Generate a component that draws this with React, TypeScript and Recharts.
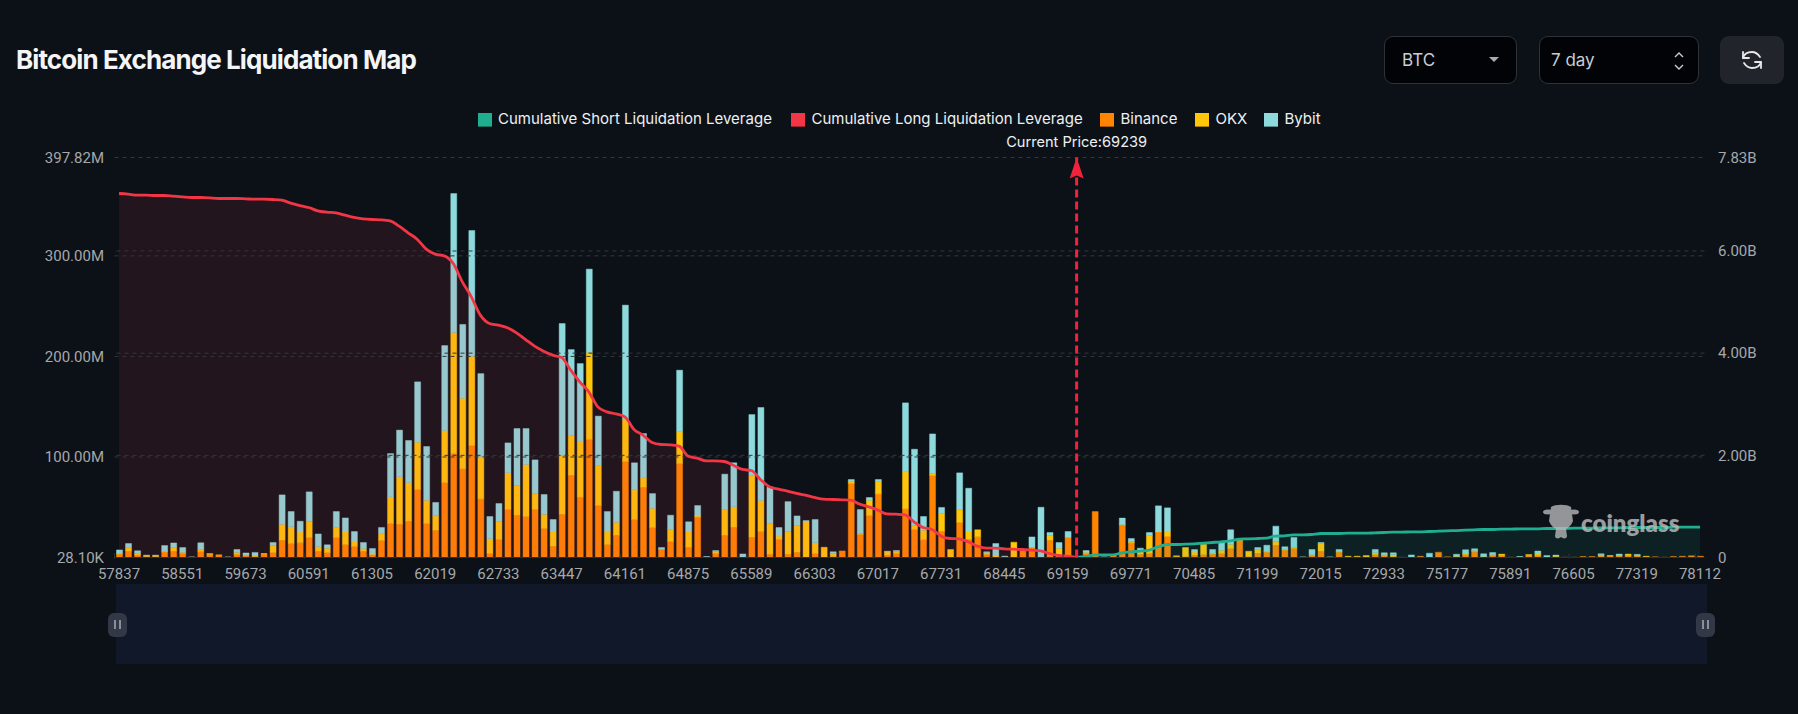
import { Area, Bar, ComposedChart, Line, ReferenceLine, XAxis, YAxis } from 'recharts';

const prices = [
  57837, 57939, 58041, 58143, 58245, 58347, 58449,
  58551, 58653, 58857, 59061, 59163, 59265, 59469,
  59673, 59775, 59877, 59979, 60081, 60183, 60489,
  60591, 60693, 60795, 60897, 60999, 61101, 61203,
  61305, 61407, 61509, 61611, 61713, 61815, 61917,
  62019, 62121, 62223, 62325, 62427, 62529, 62631,
  62733, 62835, 62937, 63039, 63141, 63243, 63345,
  63447, 63549, 63651, 63753, 63855, 63957, 64059,
  64161, 64263, 64365, 64467, 64569, 64671, 64773,
  64875, 64977, 65079, 65181, 65283, 65385, 65487,
  65589, 65691, 65793, 65895, 65997, 66099, 66201,
  66303, 66405, 66507, 66609, 66711, 66813, 66915,
  67017, 67119, 67221, 67323, 67425, 67527, 67629,
  67731, 67833, 67935, 68037, 68139, 68241, 68343,
  68445, 68547, 68649, 68751, 68853, 68955, 69057,
  69159, 69239, 69261, 69363, 69465, 69567, 69669,
  69771, 69873, 69975, 70077, 70179, 70281, 70383,
  70485, 70587, 70689, 70791, 70893, 70995, 71097,
  71199, 71301, 71403, 71505, 71607, 71709, 71913,
  72015, 72117, 72321, 72423, 72627, 72729, 72831,
  72933, 73137, 73443, 73749, 74055, 74463, 74871,
  75177, 75279, 75381, 75483, 75585, 75687, 75789,
  75891, 75993, 76095, 76197, 76299, 76401, 76503,
  76605, 76707, 76809, 76911, 77013, 77115, 77217,
  77319, 77421, 77523, 77625, 77727, 77829, 77931,
  78112,
];

// millions of USD per exchange
const binance = [
  3.3, 6.6, 2.3, 1.0, 0.7, 5.6, 6.6, 4.0, 0.3, 6.0, 2.7, 2.3, 0.3, 3.0, 2.3, 0.7, 3.6, 5.0, 17.2, 13.9,
  14.6, 19.9, 6.3, 5.0, 19.9, 12.9, 10.9, 6.3, 2.7, 16.9, 33.8, 33.2, 36.1, 67.6, 33.8, 27.2, 74.6, 103.4, 88.2, 111.4,
  58.3, 4.0, 17.9, 47.7, 42.4, 40.8, 47.7, 28.8, 11.3, 43.1, 81.9, 60.0, 117.4, 51.7, 12.9, 22.2, 95.5, 37.8, 69.9, 29.8,
  8.3, 15.9, 93.5, 10.3, 40.1, 0.3, 4.0, 22.2, 30.2, 0.3, 20.2, 25.9, 3.3, 17.9, 3.3, 5.3, 0.3, 4.0, 0.3, 0.7,
  6.6, 73.6, 22.9, 41.8, 63.3, 2.3, 4.0, 48.4, 27.8, 17.6, 81.5, 26.2, 0, 34.8, 18.2, 20.6, 3.0, 0.3, 0.7, 0.3,
  6.6, 9.9, 0.3, 17.2, 0.7, 19.9, 0, 4.0, 45.7, 0.3, 2.3, 32.2, 14.6, 3.3, 4.0, 25.2, 20.9, 0.7, 0.7, 2.3,
  3.0, 3.3, 4.0, 9.0, 16.6, 0.7, 4.6, 5.6, 12.3, 7.3, 9.0, 0.3, 2.0, 6.6, 0.3, 5.3, 0.3, 0.3, 0.3, 2.7,
  1.7, 0.7, 0, 0.3, 1.3, 0.3, 5.3, 0.7, 1.0, 2.7, 6.0, 0.7, 2.0, 1.7, 0.3, 0.7, 1.7, 1.7, 0.3, 0.7,
  0.3, 0.3, 1.0, 1.0, 1.7, 1.7, 1.7, 1.7, 1.7, 1.0, 0.7, 0.3, 1.0, 1.3, 1.7, 1.3,
];
const okx = [
  0.7, 3.3, 1.7, 0.7, 1.0, 0.7, 3.3, 1.3, 0, 2.3, 1.3, 0.3, 0, 2.3, 0.3, 1.7, 0.3, 7.3, 15.9, 16.6,
  10.9, 16.2, 4.6, 4.3, 9.9, 12.6, 5.6, 2.7, 0.7, 7.0, 26.5, 47.1, 38.5, 47.1, 23.2, 14.3, 51.7, 120.3, 70.3, 88.8,
  42.1, 14.6, 17.9, 36.5, 29.5, 51.7, 15.9, 14.3, 15.2, 58.3, 39.4, 55.0, 86.5, 39.8, 13.6, 12.9, 42.1, 29.5, 9.3, 19.2,
  0.3, 11.9, 31.5, 16.2, 1.3, 0, 1.7, 25.9, 20.2, 0, 61.3, 30.8, 30.5, 3.6, 22.5, 26.5, 35.1, 10.6, 9.9, 3.0,
  0, 2.0, 1.3, 15.2, 12.6, 3.3, 2.3, 36.8, 4.3, 9.6, 2.3, 17.6, 8.0, 12.9, 8.3, 7.0, 2.0, 2.3, 0, 15.0,
  0, 0, 0.3, 5.0, 8.6, 0, 0, 1.3, 0, 0, 0.3, 0.7, 1.0, 4.0, 18.2, 1.3, 5.6, 1.0, 9.3, 3.3,
  10.3, 0.7, 3.3, 4.3, 0.7, 5.6, 3.3, 0.3, 4.0, 0.7, 1.0, 0, 1.0, 7.6, 0, 0.7, 1.0, 1.0, 1.7, 2.0,
  1.3, 2.0, 0, 0, 0, 0, 0, 0, 0.3, 1.7, 1.0, 0.3, 1.0, 1.7, 0, 0, 1.3, 2.7, 0.3, 0.7,
  0, 0, 0, 0, 1.0, 0.3, 0.7, 1.7, 0.7, 0.3, 0, 0, 0, 0, 0, 0,
];
const bybit = [
  3.6, 4.0, 2.7, 0.7, 0.7, 5.6, 4.6, 4.6, 0.3, 6.3, 0, 0, 0.3, 2.7, 2.0, 2.7, 0, 2.7, 29.2, 15.2,
  10.6, 29.2, 12.6, 3.3, 15.9, 13.9, 9.3, 6.0, 5.6, 6.0, 43.1, 46.4, 41.8, 60.0, 53.4, 13.3, 84.5, 138.2, 73.3, 125.0,
  82.5, 22.2, 17.9, 29.8, 56.4, 35.8, 33.5, 19.6, 11.3, 131.3, 85.5, 77.9, 82.9, 49.1, 19.2, 30.8, 113.4, 26.9, 44.1, 14.6,
  1.3, 14.3, 61.3, 9.0, 10.3, 0.7, 1.3, 34.8, 43.8, 3.3, 60.7, 92.5, 36.5, 8.3, 29.8, 9.6, 1.3, 23.2, 0, 2.0,
  0, 2.0, 23.5, 2.7, 1.7, 0.7, 0.7, 68.6, 75.6, 13.6, 39.1, 6.0, 0, 36.5, 42.4, 0, 0.7, 11.3, 0.7, 0,
  0, 10.6, 49.4, 2.7, 5.6, 6.0, 0, 1.7, 0, 0.3, 0, 6.3, 3.3, 2.0, 2.7, 24.9, 22.9, 0, 0, 2.3,
  0, 4.0, 7.3, 14.3, 0, 0, 2.0, 6.3, 14.9, 2.7, 9.9, 0.3, 5.0, 0.7, 0.3, 2.0, 0, 0, 0, 3.3,
  1.7, 2.0, 0.2, 2.3, 0, 4.0, 0, 0, 2.0, 3.3, 1.7, 2.7, 2.0, 0, 0, 0.3, 0, 2.0, 1.3, 1.0,
  0, 0, 0, 0, 1.0, 0, 1.0, 0, 0.7, 0, 0, 0, 0, 0, 0, 0,
];

// billions of USD, long runs down to the current price, short runs up from it
const cumulativeLong = [
  7.125, 7.112, 7.093, 7.093, 7.086, 7.086, 7.073, 7.06, 7.047, 7.047, 7.041, 7.027, 7.027, 7.027, 7.021, 7.014, 7.014, 7.008, 6.995, 6.936,
  6.89, 6.851, 6.786, 6.76, 6.747, 6.701, 6.656, 6.629, 6.616, 6.61, 6.59, 6.486, 6.355, 6.231, 6.036, 5.938, 5.905, 5.755, 5.396, 5.103,
  4.744, 4.581, 4.548, 4.496, 4.398, 4.267, 4.137, 4.039, 3.961, 3.915, 3.667, 3.439, 3.243, 2.949, 2.851, 2.812, 2.754, 2.506, 2.395, 2.251,
  2.212, 2.205, 2.179, 1.984, 1.944, 1.892, 1.892, 1.879, 1.807, 1.723, 1.703, 1.527, 1.383, 1.338, 1.298, 1.253, 1.22, 1.175, 1.142, 1.135,
  1.129, 1.122, 1.044, 0.992, 0.927, 0.855, 0.848, 0.835, 0.698, 0.587, 0.548, 0.418, 0.372, 0.365, 0.307, 0.222, 0.183, 0.183, 0.17, 0.163,
  0.157, 0.144, 0.131, 0.078, 0.039, 0.026, 0,
];
const cumulativeShort = [
  0, 0.02, 0.052, 0.052, 0.052, 0.091, 0.111, 0.124, 0.144, 0.209, 0.254, 0.254, 0.261, 0.268, 0.281, 0.294, 0.307, 0.326, 0.359, 0.365,
  0.372, 0.378, 0.418, 0.424, 0.444, 0.444, 0.45, 0.47, 0.47, 0.47, 0.476, 0.476, 0.476, 0.483, 0.489, 0.496, 0.496, 0.502, 0.502, 0.509,
  0.515, 0.522, 0.528, 0.535, 0.542, 0.548, 0.548, 0.555, 0.555, 0.561, 0.561, 0.561, 0.568, 0.568, 0.568, 0.574, 0.574, 0.574, 0.581, 0.581,
  0.581, 0.587, 0.587, 0.587, 0.587, 0.587, 0.594, 0.594, 0.594, 0.594,
];

const currentPrice = 69239;
const leftTicks = [0.0281, 100, 200, 300, 397.82];
const rightTicks = [0, 2, 4, 6, 7.83];
const shortStart = prices.indexOf(currentPrice);

const data = prices.map((price, i) => ({
  price,
  binance: binance[i],
  okx: okx[i],
  bybit: bybit[i],
  long: i <= shortStart ? cumulativeLong[i] : null,
  short: i >= shortStart ? cumulativeShort[i - shortStart] : null,
}));

const legendItems = [
  { name: 'Cumulative Short Liquidation Leverage', color: '#1fae90', left: 478, textLeft: 498 },
  { name: 'Cumulative Long Liquidation Leverage', color: '#f23645', left: 791, textLeft: 811.5 },
  { name: 'Binance', color: '#ff8500', left: 1100, textLeft: 1120.5 },
  { name: 'OKX', color: '#ffc60a', left: 1195, textLeft: 1215.5 },
  { name: 'Bybit', color: '#8dd9dc', left: 1264, textLeft: 1284.5 },
];

const AXIS_FONT = 'Roboto, sans-serif';
const UI_FONT = 'Inter, sans-serif';
const GRID = '#33373c';

function PriceTick({ x, y, payload }: any) {
  return (
    <g>
      <line x1={x - 4.5} x2={x - 4.5} y1={y - 12} y2={y - 7} stroke="#2f333a" />
      <text x={x} y={y + 13.5} textAnchor="middle" fontFamily={AXIS_FONT} fontSize={15} fill="#a6a8aa">
        {payload.value}
      </text>
    </g>
  );
}

function PriceMarker({ viewBox }: any) {
  const x = viewBox.x;
  const top = viewBox.y;
  return (
    <g>
      <path d={`M${x} ${top} L${x + 7} ${top + 21} L${x} ${top + 18} L${x - 7} ${top + 21} Z`} fill="#f0233a" />
      <text x={x} y={top - 11} textAnchor="middle" fontFamily={UI_FONT} fontSize={14.6} fill="#eef0f2">
        Current Price:{currentPrice}
      </text>
    </g>
  );
}

function Handle({ center }: { center: number }) {
  return (
    <div style={{ position: 'absolute', left: center - 9.5, top: 613, width: 19, height: 24, background: '#333847', borderRadius: 6 }}>
      <div style={{ position: 'absolute', left: 6, top: 7, width: 2, height: 9, background: '#8a8f9c' }} />
      <div style={{ position: 'absolute', left: 11, top: 7, width: 2, height: 9, background: '#8a8f9c' }} />
    </div>
  );
}

const boxStyle: any = {
  position: 'absolute',
  top: 36,
  height: 46,
  background: '#020306',
  border: '1px solid #2f3338',
  borderRadius: 9,
  color: '#c9cdd2',
  fontFamily: UI_FONT,
  fontSize: 17,
  lineHeight: '46px',
};

export default function App() {
  return (
    <div style={{ position: 'absolute', left: 0, top: 0, width: 1798, height: 714, background: '#0c1118', overflow: 'hidden' }}>
      <div style={{ position: 'absolute', left: 16, top: 44, fontFamily: UI_FONT, fontWeight: 700, fontSize: 26, lineHeight: '32px', letterSpacing: -0.9, color: '#f4f5f6', whiteSpace: 'nowrap' }}>
        Bitcoin Exchange Liquidation Map
      </div>

      <div style={{ ...boxStyle, left: 1384, width: 131 }}>
        <span style={{ position: 'absolute', left: 17 }}>BTC</span>
        <svg style={{ position: 'absolute', left: 103, top: 19 }} width="12" height="8">
          <path d="M1 1 L11 1 L6 6 Z" fill="#a9adb2" />
        </svg>
      </div>
      <div style={{ ...boxStyle, left: 1539, width: 158 }}>
        <span style={{ position: 'absolute', left: 11 }}>7 day</span>
        <svg style={{ position: 'absolute', left: 132, top: 14 }} width="14" height="20" fill="none" stroke="#c9cdd2" strokeWidth="1.4">
          <path d="M3 6 L7 2 L11 6" />
          <path d="M3 14 L7 18 L11 14" />
        </svg>
      </div>
      <div style={{ position: 'absolute', left: 1720, top: 36, width: 64, height: 48, background: '#21252b', borderRadius: 9 }}>
        <svg style={{ position: 'absolute', left: 21, top: 13 }} width="22" height="22" fill="none" stroke="#e6e8ea" strokeWidth="1.8" strokeLinecap="round" strokeLinejoin="round">
          <path d="M2 9 C3 5 7 3 11 3 C14 3 17 5 19 8" />
          <path d="M2 3 L2 9 L8 9" />
          <path d="M20 13 C19 17 15 19 11 19 C8 19 5 17 3 14" />
          <path d="M20 19 L20 13 L14 13" />
        </svg>
      </div>

      {legendItems.map((item) => (
        <div key={item.name}>
          <div style={{ position: 'absolute', left: item.left, top: 113, width: 14, height: 14, background: item.color, boxShadow: 'inset 0 -1px 0 rgba(0,0,0,0.35)' }} />
          <div style={{ position: 'absolute', left: item.textLeft, top: 109, fontFamily: UI_FONT, fontSize: 15, lineHeight: '20px', color: '#eef0f2', whiteSpace: 'nowrap' }}>
            {item.name}
          </div>
        </div>
      ))}

      <div style={{ position: 'absolute', left: 116, top: 584, width: 1591, height: 80, background: '#11182a' }} />
      <Handle center={117} />
      <Handle center={1705} />

      <div style={{ position: 'absolute', left: 0, top: 0 }}>
        <ComposedChart
          width={1798}
          height={714}
          data={data}
          barSize={6}
          margin={{ top: 157.5, right: 13.5, bottom: 126.5, left: 14.5 }}
        >
          <XAxis
            dataKey="price"
            type="category"
            interval={6}
            height={30}
            tickLine={false}
            stroke="#2b2f36"
            tick={<PriceTick />}
          />
          <YAxis
            yAxisId="left"
            width={100}
            domain={[leftTicks[0], leftTicks[4]]}
            ticks={leftTicks}
            interval={0}
            allowDataOverflow
            axisLine={false}
            tickLine={false}
            tickMargin={4.5}
            tick={{ fill: '#a6a8aa', fontSize: 15, fontFamily: AXIS_FONT }}
            tickFormatter={(v: number) => (v < 1 ? `${(v * 1000).toFixed(2)}K` : `${v.toFixed(2)}M`)}
          />
          <YAxis
            yAxisId="right"
            orientation="right"
            width={80}
            domain={[rightTicks[0], rightTicks[4]]}
            ticks={rightTicks}
            interval={0}
            allowDataOverflow
            axisLine={false}
            tickLine={false}
            tickMargin={7.5}
            tick={{ fill: '#a6a8aa', fontSize: 15, fontFamily: AXIS_FONT }}
            tickFormatter={(v: number) => (v === 0 ? '0' : `${v.toFixed(2)}B`)}
          />

          {leftTicks.slice(1).map((v) => (
            <ReferenceLine key={`l${v}`} yAxisId="left" y={v} stroke={GRID} strokeDasharray="4 4" />
          ))}
          {rightTicks.slice(1, 4).map((v) => (
            <ReferenceLine key={`r${v}`} yAxisId="right" y={v} stroke={GRID} strokeDasharray="4 4" />
          ))}

          <Bar yAxisId="left" dataKey="binance" stackId="ex" fill="#ff8500" stroke="#ff8500" strokeOpacity={0.45} isAnimationActive={false} />
          <Bar yAxisId="left" dataKey="okx" stackId="ex" fill="#ffc60a" stroke="#ffc60a" strokeOpacity={0.45} isAnimationActive={false} />
          <Bar yAxisId="left" dataKey="bybit" stackId="ex" fill="#8dd9dc" stroke="#8dd9dc" strokeOpacity={0.45} isAnimationActive={false} />

          <Area
            yAxisId="right"
            dataKey="long"
            type="monotone"
            stroke="none"
            fill="#f0384a"
            fillOpacity={0.1}
            dot={false}
            zIndex={320}
            isAnimationActive={false}
          />
          <Area
            yAxisId="right"
            dataKey="short"
            type="monotone"
            stroke="none"
            fill="#1fae90"
            fillOpacity={0.1}
            dot={false}
            zIndex={320}
            isAnimationActive={false}
          />
          <Line yAxisId="right" dataKey="long" type="monotone" stroke="#f23645" strokeWidth={2.8} dot={false} isAnimationActive={false} />
          <Line yAxisId="right" dataKey="short" type="monotone" stroke="#1fae90" strokeWidth={2.8} dot={false} isAnimationActive={false} />

          <ReferenceLine
            yAxisId="left"
            x={currentPrice}
            stroke="#f0233a"
            strokeWidth={3}
            strokeDasharray="8 4"
            label={<PriceMarker />}
            zIndex={700}
          />
        </ComposedChart>
      </div>

      {/* watermark */}
      <svg style={{ position: 'absolute', left: 1543, top: 504, opacity: 0.78 }} width="36" height="38" fill="#b9bbbd">
        <ellipse cx="5" cy="8" rx="5" ry="2.5" />
        <ellipse cx="31" cy="8" rx="5" ry="2.5" />
        <path d="M8 3 C12 0 24 0 28 3 L30 17 C28 22 25 24 23 25 L24 32 C24 35 20 35 18 33 C16 35 12 35 12 32 L13 25 C11 24 8 22 6 17 Z" />
      </svg>
      <div style={{ position: 'absolute', left: 1581, top: 506, fontFamily: 'Lato, sans-serif', fontWeight: 800, fontSize: 24, lineHeight: '34px', color: '#b9bbbd', opacity: 0.82, whiteSpace: 'nowrap' }}>
        coinglass
      </div>
    </div>
  );
}
